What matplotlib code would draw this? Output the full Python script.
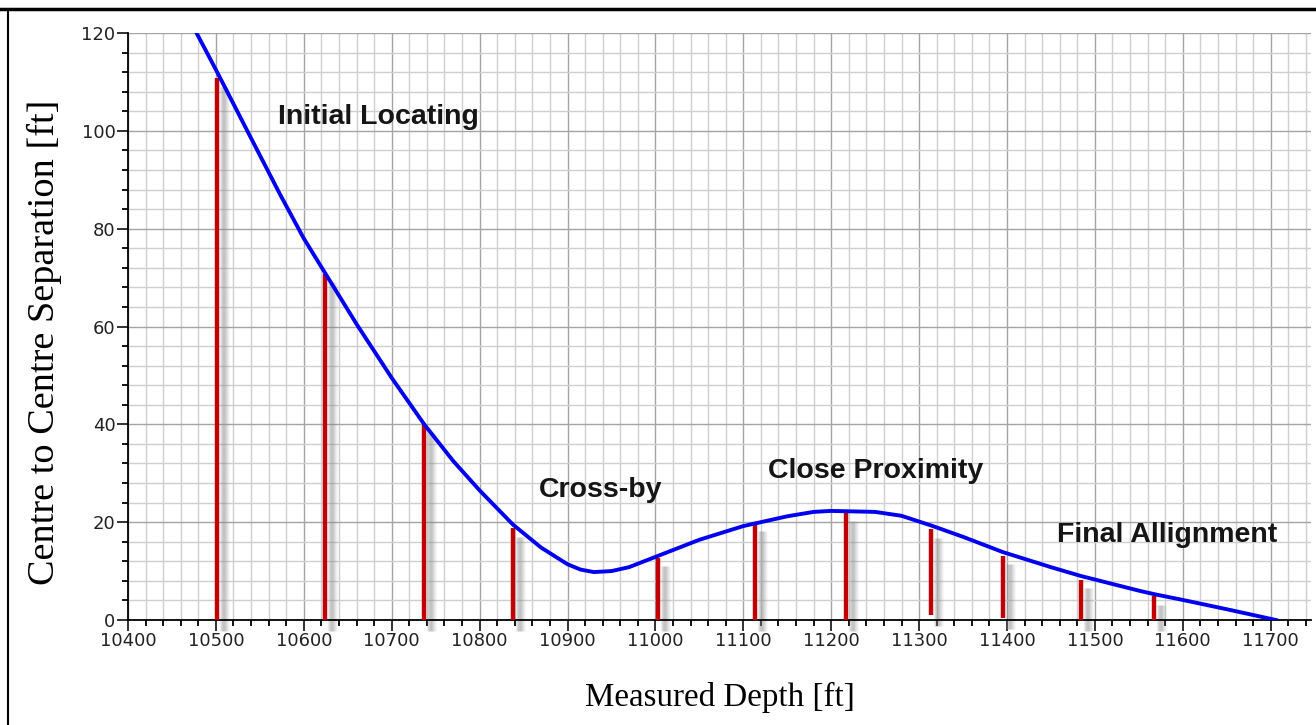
import matplotlib.pyplot as plt
import matplotlib.transforms as mtransforms
from matplotlib.lines import Line2D
from matplotlib.ticker import MultipleLocator

# separation curve (measured depth vs centre-to-centre distance)
depth = [10478, 10500, 10540, 10573, 10600, 10624, 10660, 10700, 10737, 10770,
         10800, 10838, 10870, 10900, 10915, 10930, 10950, 10970, 11000, 11050, 11100,
         11150, 11180, 11200, 11250, 11280, 11314, 11350, 11395, 11450, 11484,
         11550, 11567, 11600, 11650, 11706]
separation = [120, 112.5, 98.5, 87, 78, 71, 60.5, 49.5, 40, 32.5,
              26.5, 19.5, 14.8, 11.4, 10.3, 9.8, 10.0, 10.8, 12.9, 16.4, 19.2,
              21.2, 22.1, 22.3, 22.1, 21.3, 19.3, 17.0, 13.9, 10.8, 9.0,
              6.0, 5.3, 4.1, 2.2, 0]

# survey stations shown as red markers
station_md = [10501, 10624, 10737, 10838, 11003, 11113, 11217, 11314, 11395, 11484, 11567]
station_top = [110.8, 70.8, 39.9, 18.8, 12.7, 20.0, 21.9, 18.6, 13.1, 8.2, 4.9]
station_base = [0, 0, 0, 0, 0, 0, 0, 1.0, 0.4, 0, 0]

phase_labels = ["Initial Locating", "Cross-by", "Close Proximity", "Final Allignment"]
phase_x = [10571, 10868, 11128, 11457]
phase_y = [102.8, 26.6, 30.5, 17.4]

fig = plt.figure(figsize=(13.16, 7.25), dpi=100)
ax = fig.add_axes([128 / 1316, 1 - 620 / 725, (1311 - 128) / 1316, (620 - 33) / 725])

ax.set_xlim(10400, 10400 + (1311 - 128) / 0.879)
ax.set_ylim(0, 120)

ax.xaxis.set_major_locator(MultipleLocator(100))
ax.xaxis.set_minor_locator(MultipleLocator(20))
ax.yaxis.set_major_locator(MultipleLocator(20))
ax.yaxis.set_minor_locator(MultipleLocator(4))
ax.set_xticks(range(10400, 11701, 100))

ax.grid(which="major", color="#a4a4a4", linewidth=1.0, zorder=0)
ax.grid(which="minor", color="#cfcfcf", linewidth=1.0, zorder=0)
ax.set_axisbelow(True)

for side in ["top", "right"]:
    ax.spines[side].set_visible(False)
ax.spines["left"].set_linewidth(1.3)
ax.spines["bottom"].set_linewidth(1.3)

ax.tick_params(which="major", length=8, width=1.3, direction="out",
               labelsize=13, pad=1, colors="#222222")
ax.tick_params(which="minor", length=4, width=1.3, direction="out")

# station markers with a soft grey shadow on the right
shadow = [(3, 0.15), (4, 0.30), (5, 0.42), (6, 0.48), (7, 0.48), (8, 0.42),
          (9, 0.32), (10, 0.22), (11, 0.13), (12, 0.06)]
for x, top, base in zip(station_md, station_top, station_base):
    for off, a in shadow:
        tr = ax.transData + mtransforms.ScaledTranslation(off / 100, -11 / 100, fig.dpi_scale_trans)
        ax.plot([x, x], [base, top + 0.5], color="#8c8c8c", alpha=a, linewidth=0.8,
                transform=tr, clip_on=False, zorder=2, solid_capstyle="butt")
    ax.plot([x, x], [base, top], color="#c00000", linewidth=3.2, zorder=3,
            solid_capstyle="butt")

ax.plot(depth, separation, color="#0000ee", linewidth=2.8, zorder=4)

for label, x, y in zip(phase_labels, phase_x, phase_y):
    ax.text(x, y, label, fontsize=20.5, fontweight="bold", family="Liberation Sans",
            color="#151515", ha="left", va="center", zorder=5)

ax.set_xlabel("Measured Depth [ft]", family="Liberation Serif", fontsize=23.8, va="center")
ax.set_ylabel("Centre to Centre Separation [ft]", family="Liberation Serif", fontsize=27.5,
              va="center")
ax.xaxis.set_label_coords(0.5, -(697 - 620) / 587, transform=ax.transAxes)
ax.yaxis.set_label_coords(-(128 - 44) / 1183, 0.5 + (326 - 342) / 587, transform=ax.transAxes)

# outer frame (top and left edges)
fig.add_artist(Line2D([0, 1], [1 - 9 / 725, 1 - 9 / 725], color="black", linewidth=2.5,
                      transform=fig.transFigure))
fig.add_artist(Line2D([8 / 1316, 8 / 1316], [0, 1 - 9 / 725], color="black", linewidth=1.5,
                      transform=fig.transFigure))

fig.savefig("out.png", dpi=100)
